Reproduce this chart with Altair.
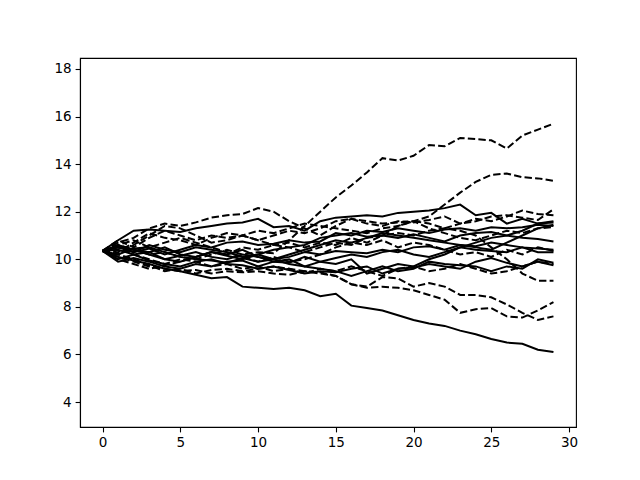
import altair as alt
import pandas as pd

steps = list(range(30))

solid_1 = [10.35, 10.1, 9.95, 9.8, 9.6, 9.5, 9.35, 9.2, 9.25, 8.85, 8.8, 8.75, 8.8, 8.7, 8.45, 8.55, 8.05, 7.95, 7.85, 7.65, 7.45, 7.3, 7.2, 7.0, 6.85, 6.65, 6.5, 6.45, 6.2, 6.1]
solid_2 = [10.35, 10.8, 11.2, 11.25, 11.2, 11.15, 11.3, 11.4, 11.5, 11.55, 11.7, 11.35, 11.4, 11.2, 11.6, 11.75, 11.8, 11.85, 11.8, 11.95, 12.0, 12.05, 12.15, 12.3, 11.85, 11.95, 11.5, 11.7, 11.5, 11.6]
solid_3 = [10.35, 10.55, 10.3, 10.45, 10.2, 10.4, 10.6, 10.5, 10.7, 10.75, 10.6, 10.65, 10.8, 10.7, 10.75, 11.1, 11.0, 11.2, 11.15, 11.3, 11.2, 11.1, 11.25, 11.3, 11.2, 11.35, 11.3, 11.35, 11.45, 11.4]
solid_4 = [10.35, 10.5, 10.4, 10.2, 10.0, 9.9, 10.1, 10.3, 10.15, 10.0, 10.2, 10.4, 10.5, 10.6, 10.9, 11.0, 11.1, 10.95, 11.0, 10.9, 11.05, 10.9, 10.75, 11.0, 11.1, 11.15, 11.0, 10.9, 10.85, 10.75]
solid_5 = [10.35, 10.2, 10.45, 10.5, 10.3, 10.1, 10.0, 9.95, 9.85, 10.05, 9.9, 10.0, 10.1, 10.3, 10.2, 10.35, 10.3, 10.25, 10.4, 10.3, 10.5, 10.55, 10.4, 10.6, 10.55, 10.7, 10.6, 10.5, 10.45, 10.4]
solid_6 = [10.35, 10.0, 10.2, 9.95, 9.8, 9.7, 9.9, 10.0, 9.8, 9.75, 9.6, 9.7, 9.55, 9.4, 9.5, 9.45, 9.6, 9.7, 9.4, 9.6, 9.65, 9.8, 9.7, 9.6, 9.9, 10.05, 9.85, 9.7, 9.9, 9.75]
solid_7 = [10.35, 10.4, 10.2, 10.3, 10.0, 10.15, 10.3, 10.1, 10.0, 10.2, 10.1, 9.9, 10.0, 9.7, 9.6, 9.5, 9.3, 9.5, 9.7, 9.5, 9.6, 9.9, 9.8, 9.75, 9.7, 9.5, 9.7, 9.6, 10.0, 9.85]
solid_8 = [10.35, 10.6, 10.4, 10.3, 10.5, 10.2, 10.1, 10.3, 10.2, 10.4, 10.1, 10.0, 9.8, 9.7, 9.9, 9.8, 10.0, 9.4, 9.6, 9.8, 9.7, 10.0, 10.2, 10.5, 10.7, 10.9, 11.0, 11.2, 11.5, 11.55]
solid_9 = [10.35, 9.9, 10.05, 9.9, 9.7, 9.6, 9.8, 9.7, 9.9, 9.95, 9.7, 9.9, 9.85, 10.1, 9.9, 10.05, 10.2, 10.1, 10.3, 10.4, 10.2, 10.1, 10.3, 10.5, 10.4, 10.35, 10.3, 10.5, 10.3, 10.3]
solid_10 = [10.35, 10.5, 10.3, 10.6, 10.4, 10.3, 10.5, 10.4, 10.3, 10.1, 10.2, 10.0, 10.2, 10.4, 10.6, 10.8, 10.7, 10.9, 11.1, 11.0, 10.9, 10.8, 10.7, 10.6, 10.5, 10.4, 10.7, 11.0, 11.3, 11.45]

dashed_1 = [10.35, 10.6, 10.4, 10.2, 10.3, 10.1, 10.0, 10.2, 10.4, 10.2, 10.3, 10.25, 10.8, 11.4, 12.0, 12.6, 13.1, 13.65, 14.25, 14.15, 14.35, 14.8, 14.75, 15.1, 15.05, 15.0, 14.65, 15.2, 15.45, 15.7]
dashed_2 = [10.35, 10.7, 10.9, 11.3, 11.5, 11.4, 11.55, 11.75, 11.85, 11.9, 12.15, 12.0, 11.6, 11.3, 11.0, 11.4, 11.7, 11.6, 11.5, 11.55, 11.6, 11.8, 12.3, 12.8, 13.25, 13.55, 13.6, 13.45, 13.4, 13.3]
dashed_3 = [10.35, 10.8, 10.5, 10.9, 11.2, 11.0, 10.8, 11.0, 10.9, 11.0, 10.8, 11.0, 11.2, 11.1, 11.3, 11.6, 11.7, 11.5, 11.4, 11.6, 11.55, 11.65, 11.8, 11.5, 11.6, 11.8, 11.85, 11.75, 11.65, 12.1]
dashed_4 = [10.35, 10.2, 10.6, 11.0, 11.4, 11.3, 11.0, 10.7, 10.8, 11.0, 11.2, 11.1, 11.3, 11.5, 11.4, 11.3, 11.2, 11.1, 11.3, 11.4, 11.6, 11.5, 11.3, 11.5, 11.7, 11.6, 11.8, 12.05, 11.9, 11.85]
dashed_5 = [10.35, 10.0, 9.8, 9.6, 9.75, 9.9, 10.1, 10.3, 10.2, 10.5, 10.4, 10.6, 10.5, 10.3, 10.5, 10.7, 10.6, 10.9, 11.0, 11.1, 11.0, 11.2, 11.3, 11.2, 11.0, 10.5, 10.0, 9.4, 9.1, 9.1]
dashed_6 = [10.35, 10.1, 9.9, 9.7, 9.6, 9.5, 9.55, 9.4, 9.5, 9.45, 9.5, 9.4, 9.35, 9.5, 9.4, 9.3, 8.95, 8.8, 8.85, 8.8, 8.7, 8.5, 8.3, 7.75, 7.9, 7.95, 7.6, 7.55, 7.85, 8.2]
dashed_7 = [10.35, 10.2, 10.0, 9.75, 9.5, 9.6, 9.4, 9.55, 9.6, 9.5, 9.6, 9.7, 9.6, 9.5, 9.45, 9.3, 8.95, 8.85, 9.25, 9.2, 8.85, 9.0, 8.85, 8.5, 8.5, 8.4, 8.1, 7.75, 7.45, 7.6]
dashed_8 = [10.35, 10.5, 10.2, 10.0, 9.8, 10.0, 9.9, 9.7, 9.8, 9.6, 9.7, 9.5, 9.6, 9.4, 9.6, 9.5, 9.7, 9.5, 9.3, 9.6, 9.7, 9.5, 9.6, 9.8, 9.6, 9.4, 9.5, 9.7, 9.9, 9.8]
dashed_9 = [10.35, 10.6, 10.8, 10.5, 10.7, 10.9, 10.7, 10.5, 10.3, 10.1, 9.9, 10.1, 9.9, 10.0, 10.2, 10.5, 10.7, 10.6, 10.8, 10.5, 10.7, 10.6, 10.4, 10.2, 10.3, 10.1, 10.4, 10.2, 10.5, 10.35]
dashed_10 = [10.35, 10.3, 10.7, 11.1, 10.9, 10.8, 10.6, 10.9, 11.1, 11.0, 10.8, 10.6, 10.7, 10.5, 10.7, 10.6, 10.9, 10.7, 11.0, 11.4, 11.6, 11.3, 11.1, 10.9, 10.8, 11.0, 11.2, 11.1, 11.3, 11.35]

solid_series = [solid_1, solid_2, solid_3, solid_4, solid_5, solid_6, solid_7, solid_8, solid_9, solid_10]
dashed_series = [dashed_1, dashed_2, dashed_3, dashed_4, dashed_5, dashed_6, dashed_7, dashed_8, dashed_9, dashed_10]

x_ticks = [0, 5, 10, 15, 20, 25, 30]
y_ticks = [4, 6, 8, 10, 12, 14, 16, 18]


def to_long(series_list, prefix):
    rows = []
    for i, s in enumerate(series_list):
        for x, v in zip(steps, s):
            rows.append({"series": f"{prefix}{i}", "x": x, "y": v})
    return pd.DataFrame(rows)


solid_df = to_long(solid_series, "s")
dashed_df = to_long(dashed_series, "d")

xs = alt.X("x:Q", scale=alt.Scale(domain=[-1.45, 30.45], nice=False, zero=False),
           axis=alt.Axis(values=x_ticks, title=None, format="d"))
ys = alt.Y("y:Q", scale=alt.Scale(domain=[2.95, 18.46], nice=False, zero=False),
           axis=alt.Axis(values=y_ticks, title=None, format="d"))

solid = alt.Chart(solid_df).mark_line(color="black", strokeWidth=2).encode(
    x=xs, y=ys, detail="series:N")
dashed = alt.Chart(dashed_df).mark_line(color="black", strokeWidth=2, strokeDash=[7.4, 3.2]).encode(
    x=xs, y=ys, detail="series:N")

chart = alt.layer(solid, dashed).properties(
    width=496, height=369,
    autosize=alt.AutoSizeParams(type="none"),
    padding={"left": 72, "top": 50, "right": 56, "bottom": 45},
).configure_view(
    stroke="black", strokeWidth=1.1
).configure_axis(
    grid=False, domainColor="black", domainWidth=1.1, tickColor="black", tickWidth=1.1,
    tickSize=4.9, labelFont="DejaVu Sans", labelFontSize=13.5, labelColor="black",
    labelPadding=4
)

chart.save("out.html", embed_options={"renderer": "svg", "actions": False})
